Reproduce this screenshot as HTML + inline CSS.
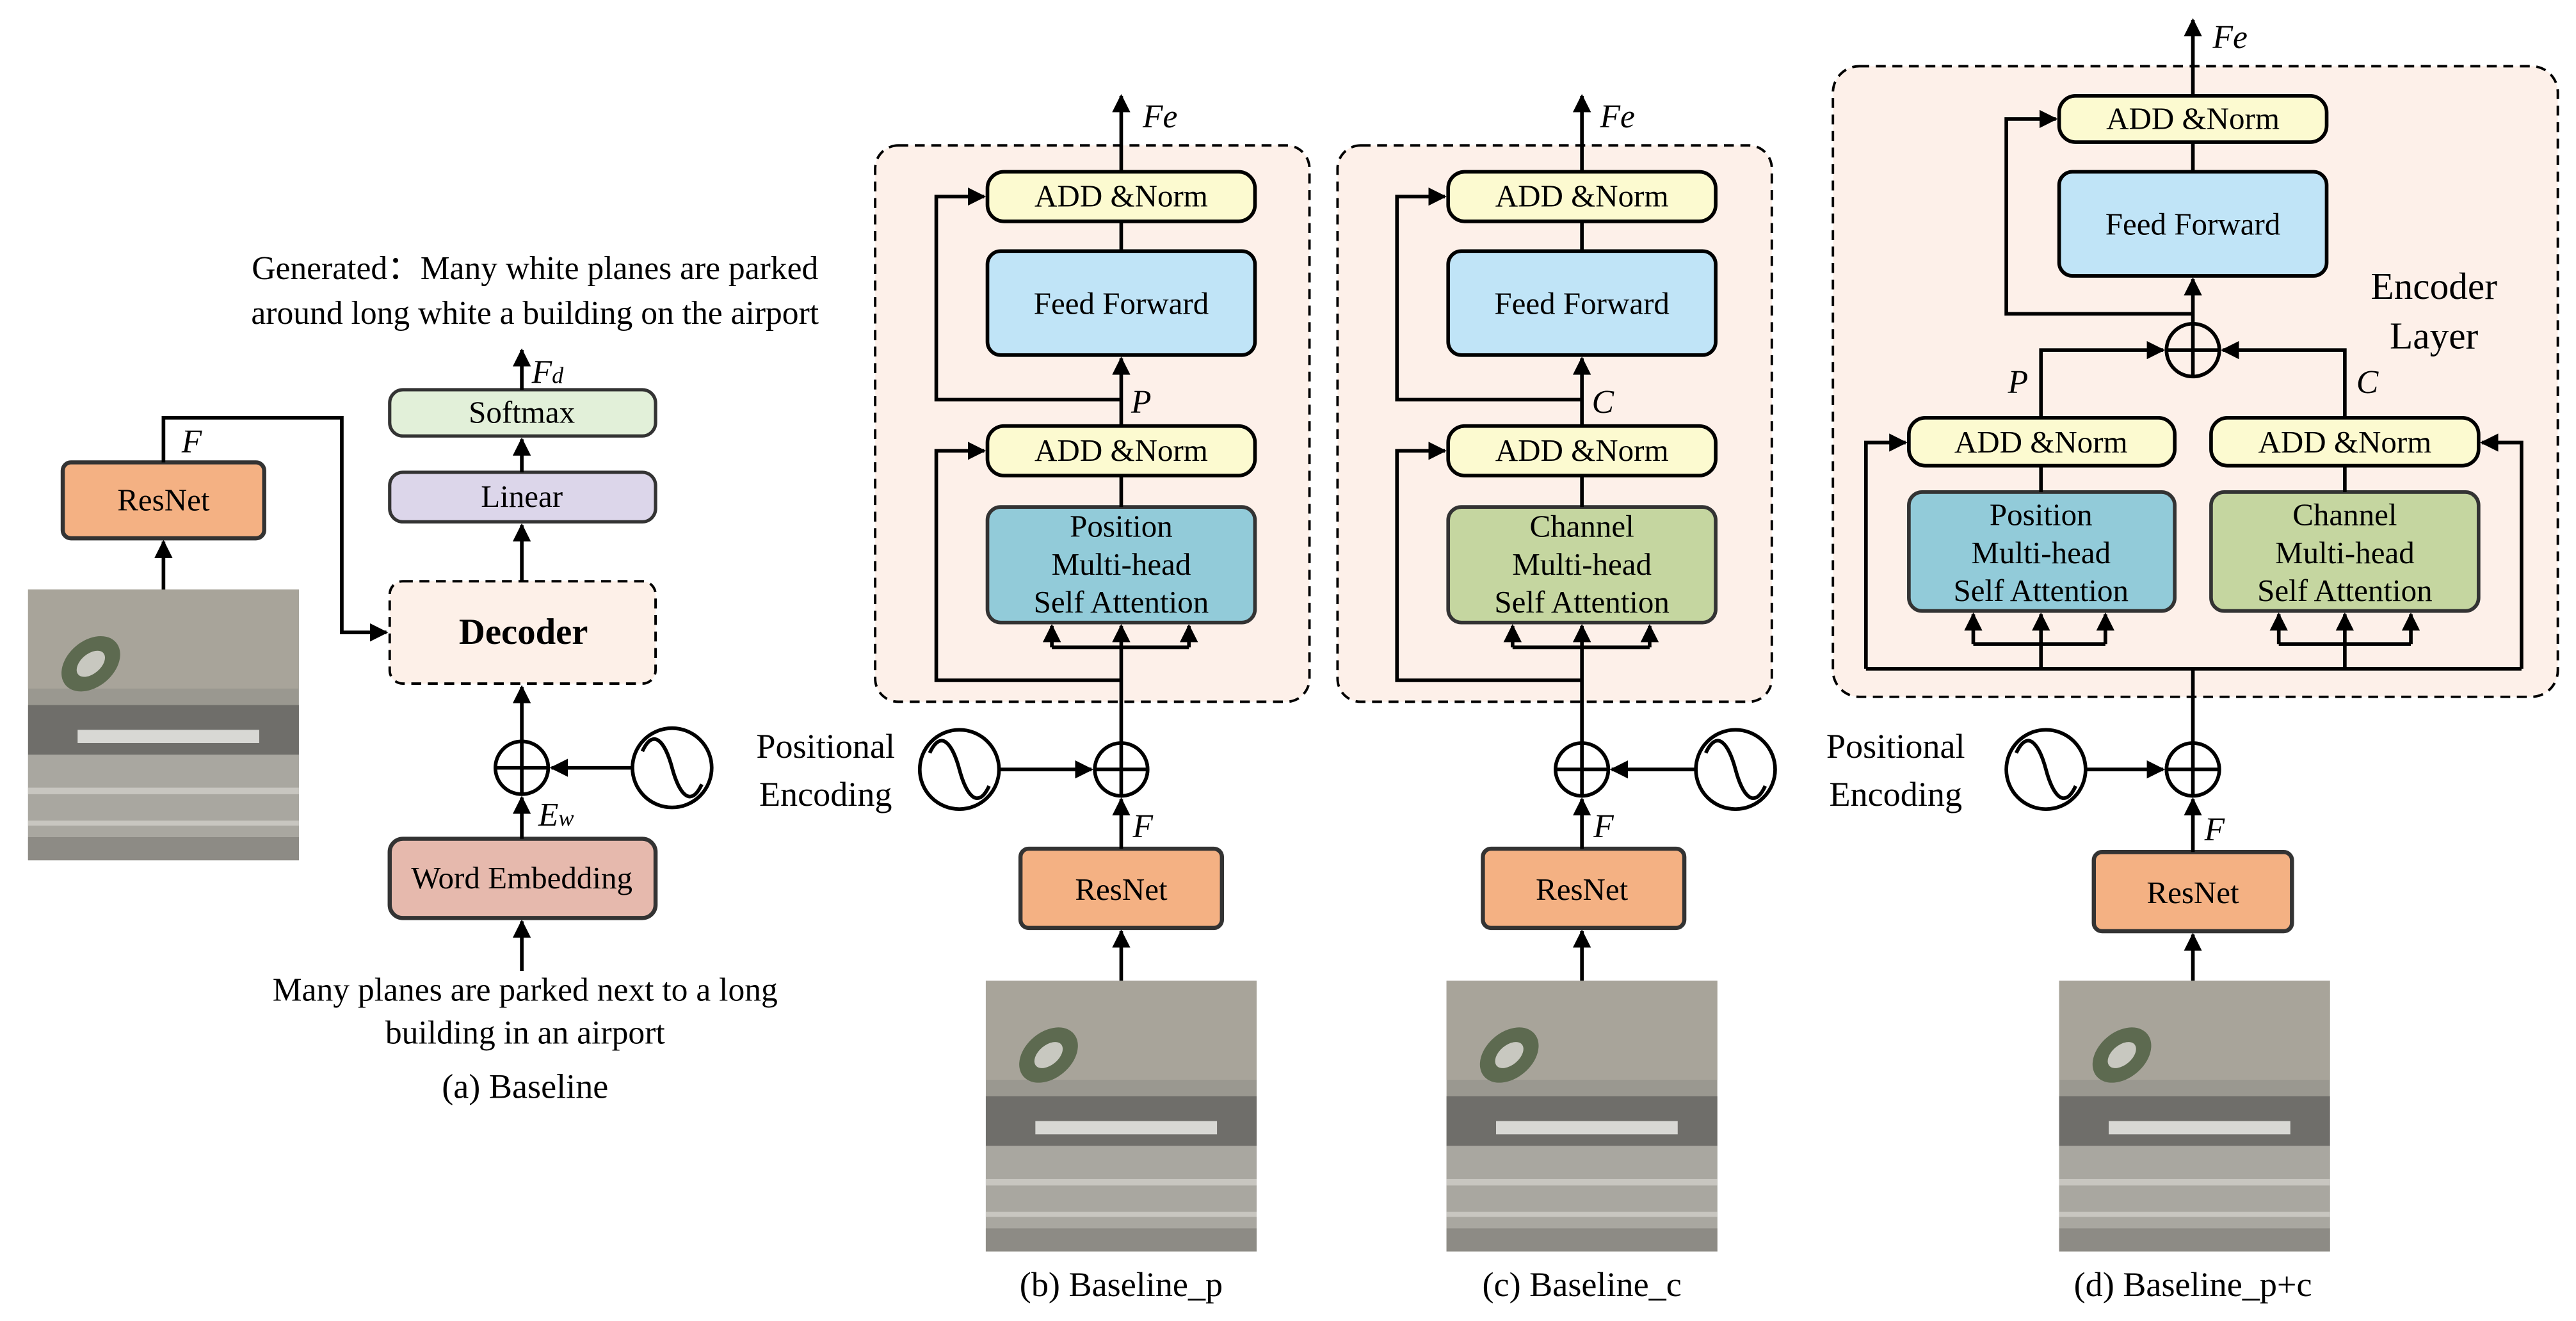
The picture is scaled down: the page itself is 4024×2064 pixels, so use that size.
<!DOCTYPE html>
<html><head><meta charset="utf-8"><style>
html,body{margin:0;padding:0;background:#fff;}
svg{display:block;}
text{font-family:"Liberation Serif","Times New Roman",serif;fill:#000;}
</style></head><body>
<svg width="4024" height="2064" viewBox="0 0 1560 800" xmlns="http://www.w3.org/2000/svg" font-family="Liberation Serif, serif">
<defs>
<marker id="a" viewBox="0 0 10 10" refX="9" refY="5" markerWidth="5" markerHeight="5" orient="auto-start-reverse"><path d="M0,0L10,5L0,10z" fill="#000"/></marker>
<g id="img">
<rect x="0" y="0" width="164" height="164" fill="#9a9890"/>
<rect x="0" y="0" width="164" height="60" fill="#a8a49a"/>
<ellipse cx="38" cy="45" rx="20" ry="14" fill="#5d6a50" transform="rotate(-40 38 45)"/>
<ellipse cx="38" cy="45" rx="10" ry="6" fill="#c8c8c0" transform="rotate(-40 38 45)"/>
<rect x="0" y="70" width="164" height="30" fill="#6f6e6a"/>
<rect x="30" y="85" width="110" height="8" fill="#d8d8d4"/>
<rect x="0" y="100" width="164" height="64" fill="#a9a7a0"/>
<rect x="0" y="120" width="164" height="4" fill="#c8c6c0"/>
<rect x="0" y="140" width="164" height="3" fill="#c8c6c0"/>
<rect x="0" y="150" width="164" height="14" fill="#8d8b85"/>
</g>
</defs>
<g stroke="#000" stroke-width="2.2" fill="none">

<!-- (a) -->
<use href="#img" x="17" y="357" stroke="none"/>
<rect x="38" y="280" width="122" height="46" rx="5" fill="#f4b183" stroke="#333" stroke-width="2.5"/>
<line x1="99" y1="357" x2="99" y2="328" marker-end="url(#a)"/>
<polyline points="99,280 99,253 207,253 207,383 234,383" marker-end="url(#a)"/>
<rect x="236" y="352" width="161" height="62" rx="8" fill="#fdf0e8" stroke-dasharray="6,4" stroke-width="1.5"/>
<rect x="236" y="286" width="161" height="30" rx="8" fill="#dcd6ea" stroke="#333" stroke-width="2"/>
<rect x="236" y="236" width="161" height="28" rx="8" fill="#e2f0d9" stroke="#333" stroke-width="2"/>
<line x1="316" y1="352" x2="316" y2="318" marker-end="url(#a)"/>
<line x1="316" y1="286" x2="316" y2="266" marker-end="url(#a)"/>
<line x1="316" y1="236" x2="316" y2="212" marker-end="url(#a)"/>
<circle cx="316" cy="465" r="16"/><line x1="300" y1="465" x2="332" y2="465"/><line x1="316" y1="449" x2="316" y2="481"/>
<line x1="316" y1="449" x2="316" y2="416" marker-end="url(#a)"/>
<circle cx="407" cy="465" r="24"/><path d="M389,455 C396,440 403,450 407,465 C411,480 418,490 425,475"/>
<line x1="383" y1="465" x2="334" y2="465" marker-end="url(#a)"/>
<rect x="236" y="508" width="161" height="48" rx="8" fill="#e6b9ad" stroke="#333" stroke-width="2.5"/>
<line x1="316" y1="508" x2="316" y2="483" marker-end="url(#a)"/>
<line x1="316" y1="588" x2="316" y2="558" marker-end="url(#a)"/>

<!-- (b) -->
<rect x="530" y="88" width="263" height="337" rx="14" fill="#fdf0e9" stroke-dasharray="6,4" stroke-width="1.5"/>
<rect x="598" y="104" width="162" height="30" rx="10" fill="#fcfad0"/>
<rect x="598" y="152" width="162" height="63" rx="8" fill="#c0e4f7"/>
<rect x="598" y="258" width="162" height="30" rx="10" fill="#fcfad0"/>
<rect x="598" y="307" width="162" height="70" rx="8" fill="#92cbd9" stroke="#333"/>
<line x1="679" y1="152" x2="679" y2="134"/>
<line x1="679" y1="104" x2="679" y2="58" marker-end="url(#a)"/>
<line x1="679" y1="258" x2="679" y2="217" marker-end="url(#a)"/>
<line x1="679" y1="307" x2="679" y2="288"/>
<polyline points="679,242 567,242 567,119 596,119" marker-end="url(#a)"/>
<polyline points="679,412 567,412 567,273 596,273" marker-end="url(#a)"/>
<line x1="679" y1="450" x2="679" y2="392"/>
<line x1="637" y1="392" x2="720" y2="392"/>
<line x1="637" y1="392" x2="637" y2="379" marker-end="url(#a)"/>
<line x1="679" y1="392" x2="679" y2="379" marker-end="url(#a)"/>
<line x1="720" y1="392" x2="720" y2="379" marker-end="url(#a)"/>
<circle cx="679" cy="466" r="16"/><line x1="663" y1="466" x2="695" y2="466"/><line x1="679" y1="450" x2="679" y2="482"/>
<circle cx="581" cy="466" r="24"/><path d="M563,456 C570,441 577,451 581,466 C585,481 592,491 599,476"/>
<line x1="605" y1="466" x2="661" y2="466" marker-end="url(#a)"/>
<rect x="618" y="514" width="122" height="48" rx="5" fill="#f4b183" stroke="#333" stroke-width="2.5"/>
<line x1="679" y1="514" x2="679" y2="484" marker-end="url(#a)"/>
<use href="#img" x="597" y="594" stroke="none"/>
<line x1="679" y1="594" x2="679" y2="564" marker-end="url(#a)"/>

<!-- (c) -->
<rect x="810" y="88" width="263" height="337" rx="14" fill="#fdf0e9" stroke-dasharray="6,4" stroke-width="1.5"/>
<rect x="877" y="104" width="162" height="30" rx="10" fill="#fcfad0"/>
<rect x="877" y="152" width="162" height="63" rx="8" fill="#c0e4f7"/>
<rect x="877" y="258" width="162" height="30" rx="10" fill="#fcfad0"/>
<rect x="877" y="307" width="162" height="70" rx="8" fill="#c5d6a0" stroke="#333"/>
<line x1="958" y1="152" x2="958" y2="134"/>
<line x1="958" y1="104" x2="958" y2="58" marker-end="url(#a)"/>
<line x1="958" y1="258" x2="958" y2="217" marker-end="url(#a)"/>
<line x1="958" y1="307" x2="958" y2="288"/>
<polyline points="958,242 846,242 846,119 875,119" marker-end="url(#a)"/>
<polyline points="958,412 846,412 846,273 875,273" marker-end="url(#a)"/>
<line x1="958" y1="450" x2="958" y2="392"/>
<line x1="916" y1="392" x2="999" y2="392"/>
<line x1="916" y1="392" x2="916" y2="379" marker-end="url(#a)"/>
<line x1="958" y1="392" x2="958" y2="379" marker-end="url(#a)"/>
<line x1="999" y1="392" x2="999" y2="379" marker-end="url(#a)"/>
<circle cx="958" cy="466" r="16"/><line x1="942" y1="466" x2="974" y2="466"/><line x1="958" y1="450" x2="958" y2="482"/>
<circle cx="1051" cy="466" r="24"/><path d="M1033,456 C1040,441 1047,451 1051,466 C1055,481 1062,491 1069,476"/>
<line x1="1027" y1="466" x2="976" y2="466" marker-end="url(#a)"/>
<rect x="898" y="514" width="122" height="48" rx="5" fill="#f4b183" stroke="#333" stroke-width="2.5"/>
<line x1="958" y1="514" x2="958" y2="484" marker-end="url(#a)"/>
<use href="#img" x="876" y="594" stroke="none"/>
<line x1="958" y1="594" x2="958" y2="564" marker-end="url(#a)"/>

<!-- (d) -->
<rect x="1110" y="40" width="439" height="382" rx="16" fill="#fdf0e9" stroke-dasharray="6,4" stroke-width="1.5"/>
<rect x="1247" y="58" width="162" height="28" rx="10" fill="#fcfad0"/>
<rect x="1247" y="104" width="162" height="63" rx="8" fill="#c0e4f7"/>
<rect x="1156" y="253" width="161" height="29" rx="10" fill="#fcfad0"/>
<rect x="1339" y="253" width="162" height="29" rx="10" fill="#fcfad0"/>
<rect x="1156" y="298" width="161" height="72" rx="8" fill="#92cbd9" stroke="#333"/>
<rect x="1339" y="298" width="162" height="72" rx="8" fill="#c5d6a0" stroke="#333"/>
<line x1="1328" y1="104" x2="1328" y2="86"/>
<line x1="1328" y1="58" x2="1328" y2="12" marker-end="url(#a)"/>
<circle cx="1328" cy="212" r="16"/><line x1="1312" y1="212" x2="1344" y2="212"/><line x1="1328" y1="196" x2="1328" y2="228"/>
<line x1="1328" y1="196" x2="1328" y2="169" marker-end="url(#a)"/>
<polyline points="1328,190 1215,190 1215,72 1245,72" marker-end="url(#a)"/>
<polyline points="1236,253 1236,212 1310,212" marker-end="url(#a)"/>
<polyline points="1420,253 1420,212 1346,212" marker-end="url(#a)"/>
<line x1="1236" y1="298" x2="1236" y2="282"/>
<line x1="1420" y1="298" x2="1420" y2="282"/>
<line x1="1328" y1="450" x2="1328" y2="405"/>
<polyline points="1130,405 1527,405"/>
<polyline points="1130,405 1130,268 1154,268" marker-end="url(#a)"/>
<polyline points="1527,405 1527,268 1503,268" marker-end="url(#a)"/>
<line x1="1236" y1="405" x2="1236" y2="390"/>
<line x1="1195" y1="390" x2="1275" y2="390"/>
<line x1="1195" y1="390" x2="1195" y2="372" marker-end="url(#a)"/>
<line x1="1236" y1="390" x2="1236" y2="372" marker-end="url(#a)"/>
<line x1="1275" y1="390" x2="1275" y2="372" marker-end="url(#a)"/>
<line x1="1420" y1="405" x2="1420" y2="390"/>
<line x1="1380" y1="390" x2="1460" y2="390"/>
<line x1="1380" y1="390" x2="1380" y2="372" marker-end="url(#a)"/>
<line x1="1420" y1="390" x2="1420" y2="372" marker-end="url(#a)"/>
<line x1="1460" y1="390" x2="1460" y2="372" marker-end="url(#a)"/>
<circle cx="1328" cy="466" r="16"/><line x1="1312" y1="466" x2="1344" y2="466"/><line x1="1328" y1="450" x2="1328" y2="482"/>
<circle cx="1239" cy="466" r="24"/><path d="M1221,456 C1228,441 1235,451 1239,466 C1243,481 1250,491 1257,476"/>
<line x1="1263" y1="466" x2="1310" y2="466" marker-end="url(#a)"/>
<rect x="1268" y="516" width="120" height="48" rx="5" fill="#f4b183" stroke="#333" stroke-width="2.5"/>
<line x1="1328" y1="516" x2="1328" y2="484" marker-end="url(#a)"/>
<use href="#img" x="1247" y="594" stroke="none"/>
<line x1="1328" y1="594" x2="1328" y2="566" marker-end="url(#a)"/>
</g>

<g font-size="19" text-anchor="middle">
<text x="99" y="309">ResNet</text>
<text x="317" y="390" font-size="22" font-weight="bold">Decoder</text>
<text x="316" y="307">Linear</text>
<text x="316" y="256">Softmax</text>
<text x="316" y="538">Word Embedding</text>
<text x="324" y="169" font-size="20">Generated：Many white planes are parked</text>
<text x="324" y="196" font-size="20">around long white a building on the airport</text>
<text x="318" y="606" font-size="20">Many planes are parked next to a long</text>
<text x="318" y="632" font-size="20">building in an airport</text>
<text x="318" y="665" font-size="21">(a) Baseline</text>
<text x="679" y="125">ADD &amp;Norm</text>
<text x="679" y="190">Feed Forward</text>
<text x="679" y="279">ADD &amp;Norm</text>
<text x="679" y="325">Position</text>
<text x="679" y="348">Multi-head</text>
<text x="679" y="371">Self Attention</text>
<text x="679" y="545">ResNet</text>
<text x="500" y="459" font-size="21">Positional</text>
<text x="500" y="488" font-size="21">Encoding</text>
<text x="679" y="785" font-size="21">(b) Baseline_p</text>
<text x="958" y="125">ADD &amp;Norm</text>
<text x="958" y="190">Feed Forward</text>
<text x="958" y="279">ADD &amp;Norm</text>
<text x="958" y="325">Channel</text>
<text x="958" y="348">Multi-head</text>
<text x="958" y="371">Self Attention</text>
<text x="958" y="545">ResNet</text>
<text x="958" y="785" font-size="21">(c) Baseline_c</text>
<text x="1328" y="78">ADD &amp;Norm</text>
<text x="1328" y="142">Feed Forward</text>
<text x="1236" y="274">ADD &amp;Norm</text>
<text x="1420" y="274">ADD &amp;Norm</text>
<text x="1236" y="318">Position</text>
<text x="1236" y="341">Multi-head</text>
<text x="1236" y="364">Self Attention</text>
<text x="1420" y="318">Channel</text>
<text x="1420" y="341">Multi-head</text>
<text x="1420" y="364">Self Attention</text>
<text x="1328" y="547">ResNet</text>
<text x="1148" y="459" font-size="21">Positional</text>
<text x="1148" y="488" font-size="21">Encoding</text>
<text x="1474" y="181" font-size="23">Encoder</text>
<text x="1474" y="211" font-size="23">Layer</text>
<text x="1328" y="785" font-size="21">(d) Baseline_p+c</text>
</g>
<g font-size="20" font-style="italic">
<text x="110" y="274">F</text>
<text x="322" y="232">F<tspan font-size="14">d</tspan></text>
<text x="326" y="500">E<tspan font-size="14">w</tspan></text>
<text x="692" y="77">Fe</text>
<text x="685" y="250">P</text>
<text x="686" y="507">F</text>
<text x="969" y="77">Fe</text>
<text x="964" y="250">C</text>
<text x="965" y="507">F</text>
<text x="1340" y="29">Fe</text>
<text x="1216" y="238">P</text>
<text x="1427" y="238">C</text>
<text x="1335" y="509">F</text>
</g>
</svg>
</body></html>
